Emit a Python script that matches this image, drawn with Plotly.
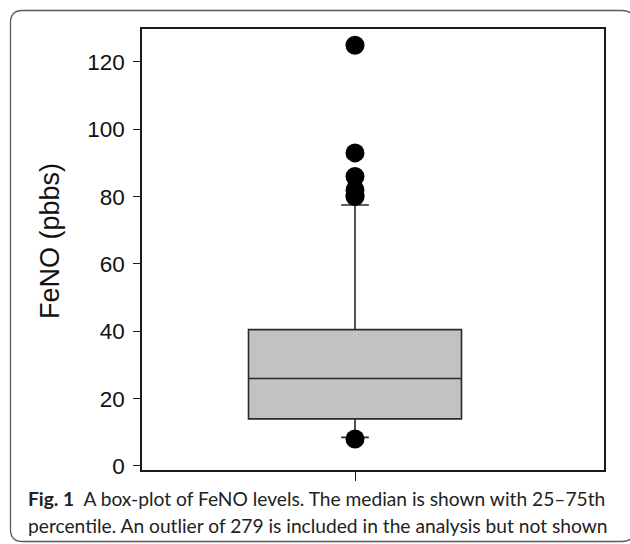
import plotly.graph_objects as go

# ---- data ----
q1 = [14.0]
median = [26.0]
q3 = [40.5]
lower_fence = [8.5]
upper_fence = [77.5]
outliers_high = [125, 93, 86, 82, 80.5, 80]
outliers_low = [8]
y_ticks = [0, 20, 40, 60, 80, 100, 120]
y_title = "FeNO (pbbs)"
caption_bold = "Fig. 1"
caption_1 = "  A box-plot of FeNO levels. The median is shown with 25\u201375th"
caption_2 = "percentile. An outlier of 279 is included in the analysis but not shown"

W, H = 630, 544
L, R, T, B = 142, 26, 29, 74
PW, PH = W - L - R, H - T - B

def fx(px):
    return (px - L) / PW

def fy(py):
    return (H - B - py) / PH

fig = go.Figure()
fig.add_trace(go.Box(
    x=[0], q1=q1, median=median, q3=q3,
    lowerfence=lower_fence, upperfence=upper_fence,
    width=1.0, whiskerwidth=0.13,
    fillcolor="#c2c2c2",
    line=dict(color="#2a2a2a", width=1.6),
    boxpoints=False, showlegend=False, hoverinfo="skip",
))
pts = outliers_high + outliers_low
fig.add_trace(go.Scatter(
    x=[0] * len(pts), y=pts, mode="markers",
    marker=dict(color="black", size=19, line=dict(width=0)),
    showlegend=False, hoverinfo="skip",
))

axis_common = dict(showline=True, linecolor="#1a1a1a", linewidth=1.6, mirror=True,
                   showgrid=False, zeroline=False, ticks="outside",
                   tickcolor="#1a1a1a", tickwidth=1.4)
fig.update_xaxes(range=[-1.0, 1.169], tickvals=[0], ticktext=[""], ticklen=9, **axis_common)
fig.update_yaxes(range=[-1.2, 129.8], tickvals=y_ticks, ticklen=7, ticklabelstandoff=4,
                 tickfont=dict(family="Liberation Sans, Arial", size=22.5, color="#111"),
                 **axis_common)

# outer rounded border
x0, y0, x1, y1, r = 10.5, 10.5, 634, 541.5, 12
path = (f"M {fx(x0)},{fy(y0 + r)} "
        f"Q {fx(x0)},{fy(y0)} {fx(x0 + r)},{fy(y0)} "
        f"L {fx(x1 - r)},{fy(y0)} "
        f"Q {fx(x1)},{fy(y0)} {fx(x1)},{fy(y0 + r)} "
        f"L {fx(x1)},{fy(y1 - r)} "
        f"Q {fx(x1)},{fy(y1)} {fx(x1 - r)},{fy(y1)} "
        f"L {fx(x0 + r)},{fy(y1)} "
        f"Q {fx(x0)},{fy(y1)} {fx(x0)},{fy(y1 - r)} Z")
fig.add_shape(type="path", path=path, xref="paper", yref="paper",
              line=dict(color="#5a5a5a", width=1.3), layer="below")

cap_font = dict(family="Lato, Open Sans", size=19.2, color="#222")
fig.add_annotation(x=fx(26), y=fy(499), xref="paper", yref="paper",
                   xanchor="left", yanchor="middle", showarrow=False,
                   text=f"<b>{caption_bold}</b>{caption_1}", font=cap_font)
fig.add_annotation(x=fx(26), y=fy(525), xref="paper", yref="paper",
                   xanchor="left", yanchor="middle", showarrow=False,
                   text=caption_2, font=cap_font)
fig.add_annotation(x=fx(50), y=fy(241), xref="paper", yref="paper",
                   xanchor="center", yanchor="middle", showarrow=False,
                   textangle=-90, text=y_title,
                   font=dict(family="Liberation Sans, Arial", size=27, color="#111"))

fig.update_layout(width=W, height=H, margin=dict(l=L, r=R, t=T, b=B),
                  paper_bgcolor="white", plot_bgcolor="white")
fig.write_html("out.html", config={"displayModeBar": False},
               post_script="document.body.style.margin='0';")
